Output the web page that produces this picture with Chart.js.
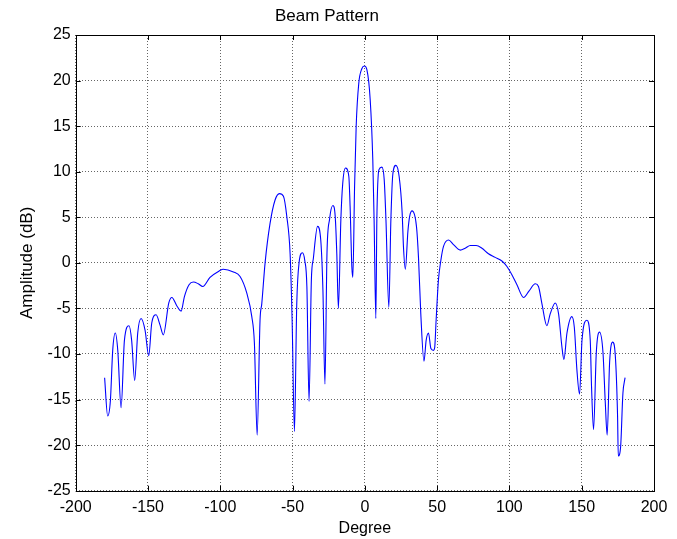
<!DOCTYPE html>
<html>
<head>
<meta charset="utf-8">
<script src="https://cdn.jsdelivr.net/npm/chart.js@4.4.1/dist/chart.umd.min.js"></script>
<style>
  html, body { margin: 0; padding: 0; background: #fff; }
  canvas { display: block; }
</style>
</head>
<body>
<canvas id="myChart" width="677" height="539"></canvas>
<script>
// valores (graus, dB)
const graus = [
  -180, -177.9, -176.0, -174.4, -172.6, -170.9, -168.6, -166.3, -163.1, -161.3,
  -159.2, -157.1, -154.8, -152.0, -149.5, -147.4, -144.4, -141.7, -139.4, -135.6,
  -133.5, -130.1, -127.1, -124.8, -121.6, -118.6, -115.2, -112.1, -107.1, -100.8,
  -97.9, -90.9, -86.3, -81.7, -78.2, -76.4, -74.5, -72.5, -71.3, -69.0,
  -65.6, -62.1, -59.1, -56.3, -54.0, -51.7, -50.3, -48.7, -47.1, -45.5,
  -43.2, -41.6, -40.1, -38.6, -37.0, -35.6, -32.7, -30.5, -29.0, -27.6,
  -26.2, -24.4, -22.1, -20.5, -19.4, -18.3, -16.6, -15.3, -13.4, -11.1,
  -10.2, -9.0, -8.3, -7.1, -6.0, -4.2, -2.1, -0.3, 1.4, 3.7,
  5.5, 6.4, 7.6, 8.3, 9.7, 11.8, 13.4, 14.6, 16.6, 18.0,
  19.4, 21.5, 23.7, 25.8, 26.7, 28.0, 29.8, 31.0, 32.7, 35.7,
  37.1, 38.7, 40.9, 42.4, 44.0, 45.7, 47.5, 48.3, 49.3, 50.9,
  52.6, 54.4, 57.9, 61.3, 66.0, 69.4, 72.9, 77.0, 81.0, 85.5,
  90.2, 94.8, 98.3, 101.7, 105.2, 109.8, 113.5, 117.9, 120.1, 122.5,
  125.9, 128.2, 131.7, 134.0, 136.3, 137.7, 139.8, 143.2, 144.9, 146.7,
  148.5, 150.2, 153.6, 155.9, 156.8, 158.2, 160.1, 162.3, 164.7, 166.3,
  167.6, 169.3, 171.4, 173.2, 174.8, 175.3, 176.9, 178.5, 180
];

const amplitude = [
  -12.6, -16.8, -15.1, -9.6, -7.7, -9.6, -15.9, -8.5, -6.9, -8.5,
  -12.9, -7.7, -6.1, -7.4, -10.2, -6.6, -5.7, -6.8, -7.9, -4.4,
  -3.8, -4.7, -5.3, -3.7, -2.4, -2.1, -2.3, -2.6, -1.6, -0.9,
  -0.7, -1.0, -1.5, -3.3, -5.9, -8.8, -18.9, -6.3, -4.5, 0.0,
  4.3, 6.9, 7.6, 7.3, 5.1, 1.0, -6.3, -18.5, -4.5, 0.0,
  1.1, 0.3, -2.6, -15.2, -1.9, 0.5, 4.0, 2.5, -3.0, -13.3,
  1.0, 4.8, 6.3, 5.1, 1.0, -5.0, 4.7, 8.7, 10.4, 9.5,
  6.2, -0.4, -1.6, 8.4, 15.0, 19.7, 21.3, 21.6, 21.2, 17.9,
  11.3, 4.7, -6.1, 4.7, 10.2, 10.5, 9.1, 4.7, -4.9, 4.7,
  9.8, 10.7, 9.5, 5.5, 1.8, -0.7, 3.5, 5.1, 5.7, 4.0,
  0.6, -5.6, -10.8, -8.5, -7.7, -9.4, -9.6, -9.3, -6.3, -1.9,
  0.3, 1.8, 2.5, 2.0, 1.4, 1.6, 1.9, 1.9, 1.6, 1.0,
  0.6, 0.2, -0.4, -1.3, -2.4, -3.8, -3.1, -2.3, -2.6, -4.5,
  -6.9, -5.6, -4.4, -5.6, -9.2, -10.6, -7.7, -5.9, -7.1, -11.8,
  -14.4, -8.5, -6.3, -8.5, -13.6, -18.3, -9.8, -7.6, -9.8, -15.3,
  -18.9, -10.9, -8.7, -10.1, -16.8, -21.2, -20.2, -14.3, -12.6
];

const ticks_x = [-200, -150, -100, -50, 0, 50, 100, 150, 200];
const ticks_y = [-25, -20, -15, -10, -5, 0, 5, 10, 15, 20, 25];

const pontos = graus.map(function (g, i) { return { x: g, y: amplitude[i] }; });

// moldura e tracinhos pra dentro, estilo matlab
const moldura = {
  id: 'moldura',
  afterDraw(chart) {
    const ctx = chart.ctx;
    const a = chart.chartArea;
    const sx = chart.scales.x;
    const sy = chart.scales.y;
    const t = 5;
    ctx.save();
    ctx.strokeStyle = '#000';
    ctx.lineWidth = 1;
    ctx.beginPath();
    ticks_x.forEach(function (v) {
      const px = Math.round(sx.getPixelForValue(v)) + 0.5;
      ctx.moveTo(px, a.bottom); ctx.lineTo(px, a.bottom - t);
      ctx.moveTo(px, a.top); ctx.lineTo(px, a.top + t);
    });
    ticks_y.forEach(function (v) {
      const py = Math.round(sy.getPixelForValue(v)) + 0.5;
      ctx.moveTo(a.left, py); ctx.lineTo(a.left + t, py);
      ctx.moveTo(a.right, py); ctx.lineTo(a.right - t, py);
    });
    ctx.stroke();
    ctx.strokeRect(Math.round(a.left) + 0.5, Math.round(a.top) + 0.5,
      Math.round(a.right - a.left), Math.round(a.bottom - a.top));
    ctx.restore();
  }
};

const data = {
  datasets: [{
    label: 'Beam Pattern',
    data: pontos,
    borderColor: '#0000ff',
    borderWidth: 1.1,
    pointRadius: 0,
    fill: false,
    cubicInterpolationMode: 'monotone'
  }]
};

const config = {
  type: 'line',
  data: data,
  options: {
    responsive: false,
    animation: false,
    layout: { padding: { left: 0, right: 23, top: 0, bottom: 0 } },
    plugins: {
      legend: { display: false },
      tooltip: { enabled: false },
      title: {
        display: true,
        text: 'Beam Pattern',
        color: '#000',
        font: { family: 'Liberation Sans, Arial', size: 17, weight: 'normal' },
        padding: { top: 6, bottom: 8.6 }
      }
    },
    scales: {
      x: {
        type: 'linear',
        min: -200,
        max: 200,
        afterFit(scale) { scale.height = 48.3; },
        afterBuildTicks(scale) { scale.ticks = ticks_x.map(function (v) { return { value: v }; }); },
        ticks: {
          color: '#000',
          padding: 7,
          maxRotation: 0,
          autoSkip: false,
          font: { family: 'Liberation Sans, Arial', size: 16 }
        },
        grid: { color: '#666', lineWidth: 1, drawTicks: false },
        border: { display: false, dash: [1, 2] },
        title: {
          display: true,
          text: 'Degree',
          color: '#000',
          font: { family: 'Liberation Sans, Arial', size: 16 },
          padding: { top: 0, bottom: 0.6 }
        }
      },
      y: {
        type: 'linear',
        min: -25,
        max: 25,
        afterFit(scale) { scale.width = 75.7; },
        afterBuildTicks(scale) { scale.ticks = ticks_y.map(function (v) { return { value: v }; }); },
        ticks: {
          color: '#000',
          padding: 5,
          autoSkip: false,
          font: { family: 'Liberation Sans, Arial', size: 16 }
        },
        grid: { color: '#666', lineWidth: 1, drawTicks: false },
        border: { display: false, dash: [1, 2] },
        title: {
          display: true,
          text: 'Amplitude (dB)',
          color: '#000',
          font: { family: 'Liberation Sans, Arial', size: 17 },
          padding: { top: 17.3, bottom: 0 }
        }
      }
    }
  },
  plugins: [moldura]
};

const myChart = new Chart(document.getElementById('myChart'), config);
</script>
</body>
</html>
